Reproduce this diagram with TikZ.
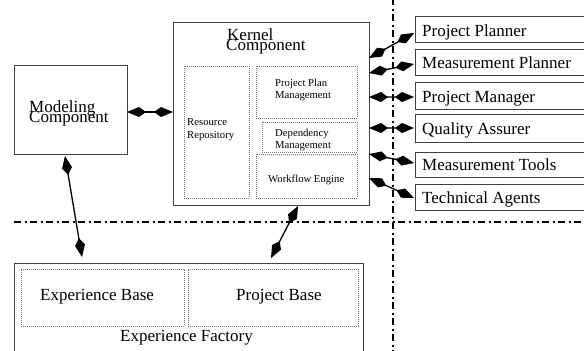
\documentclass[tikz,border=0pt]{standalone}
\usepackage{fontspec}
\setmainfont{Liberation Serif}
\usetikzlibrary{arrows.meta,calc}
\begin{document}
\begin{tikzpicture}[x=1bp,y=-1bp,
  box/.style={draw=black!75,line width=0.9bp,rectangle,inner sep=0,outer sep=0,anchor=north west},
  subbox/.style={draw=black!55,line width=0.7bp,dash pattern=on 1bp off 1bp,rectangle,inner sep=0,outer sep=0,anchor=north west},
  big/.style={font=\fontsize{17bp}{19bp}\selectfont,inner sep=0,anchor=base west},
  small/.style={font=\fontsize{10.7bp}{12bp}\selectfont,inner sep=0,anchor=base west},
  tipk/.tip={Kite[length=19bp,width=10bp,inset=7bp]},
  biarrow/.style={line width=1.3bp,tipk-tipk},
  sepline/.style={line width=2.2bp,dash pattern=on 7bp off 3.5bp on 2bp off 3.5bp}]
\clip (0,0) rectangle (584,350);
\useasboundingbox (0,0) rectangle (584,350);
\fill[white] (0,0) rectangle (584,350);

% separators
\draw[sepline] (14,222) -- (590,222);
\draw[sepline] (393,-2) -- (393,352);

% kernel
\node[box,minimum width=196bp,minimum height=183bp] (kernel) at (173,22) {};
\node[big] (kt1) at (227,40) {Kernel};
\node[big] (kt2) at (226,50) {Component};
\node[subbox,minimum width=65bp,minimum height=132bp] (rr) at (184,66) {};
\node[small] (rr1) at (187,125) {Resource};
\node[small] (rr2) at (187,138) {Repository};
\node[subbox,minimum width=101bp,minimum height=52bp] (ppm) at (256,66) {};
\node[small] (ppm1) at (275,86) {Project Plan};
\node[small] (ppm2) at (275,98.5) {Management};
\node[subbox,minimum width=95bp,minimum height=30bp] (dm) at (262,122) {};
\node[small] (dm1) at (275,136) {Dependency};
\node[small] (dm2) at (275,148.5) {Management};
\node[subbox,minimum width=101bp,minimum height=44bp] (we) at (256,154) {};
\node[small] (we1) at (268,182) {Workflow Engine};

% modeling
\node[box,minimum width=113bp,minimum height=89bp] (modeling) at (14,65) {};
\node[big] (mc1) at (29,112) {Modeling};
\node[big] (mc2) at (29,122) {Component};

% experience factory
\node[box,minimum width=349bp,minimum height=100bp] (ef) at (14,263) {};
\node[subbox,minimum width=163bp,minimum height=57bp] (eb) at (21,269) {};
\node[subbox,minimum width=170bp,minimum height=57bp] (pb) at (188,269) {};
\node[big] (ebt) at (40,300) {Experience Base};
\node[big] (pbt) at (236,300) {Project Base};
\node[big] (eft) at (120,341) {Experience Factory};

% right boxes
\node[box,minimum width=185bp,minimum height=26bp] (pp) at (415,16) {};
\node[box,minimum width=185bp,minimum height=26bp] (mp) at (415,49) {};
\node[box,minimum width=185bp,minimum height=27bp] (pm) at (415,82) {};
\node[box,minimum width=185bp,minimum height=28bp] (qa) at (415,114) {};
\node[box,minimum width=185bp,minimum height=25bp] (mt) at (415,152) {};
\node[box,minimum width=185bp,minimum height=26bp] (ta) at (415,184) {};
\node[big] (ppt) at (422,36) {Project Planner};
\node[big] (mpt) at (422,68) {Measurement Planner};
\node[big] (pmt) at (422,102) {Project Manager};
\node[big] (qat) at (422,134) {Quality Assurer};
\node[big] (mtt) at (422,170) {Measurement Tools};
\node[big] (tat) at (422,203) {Technical Agents};

% connectors
\draw[biarrow] ($(modeling.north east)+(0,47)$) -- ($(kernel.north west)+(0,90)$);
\draw[biarrow] ($(modeling.south west)+(51,2)$) -- ($(ef.north west)+(68,-6)$);
\draw[biarrow] ($(kernel.south west)+(125,1)$) -- ($(ef.north west)+(257,-5)$);
\draw[biarrow] ($(kernel.north east)+(0,36)$) -- ($(pp.west)+(-1,4)$);
\draw[biarrow] ($(kernel.north east)+(0,51)$) -- ($(mp.west)+(-1,2)$);
\draw[biarrow] ($(kernel.north east)+(0,75)$) -- ($(pm.west)+(-1,1.5)$);
\draw[biarrow] ($(kernel.north east)+(0,106)$) -- ($(qa.west)+(-1,0)$);
\draw[biarrow] ($(kernel.north east)+(0,132)$) -- ($(mt.west)+(-1,-1.5)$);
\draw[biarrow] ($(kernel.north east)+(0,156)$) -- ($(ta.west)+(-1,1)$);
\end{tikzpicture}
\end{document}
